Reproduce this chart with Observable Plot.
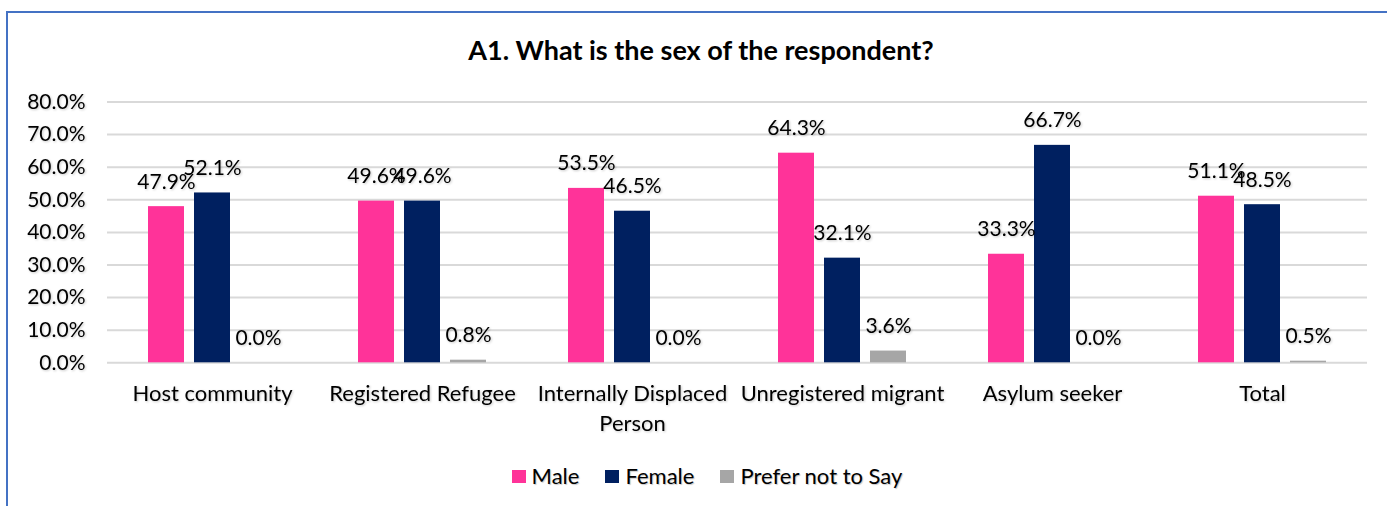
<!DOCTYPE html>
<html>
<head>
<meta charset="utf-8">
<script src="https://cdn.jsdelivr.net/npm/d3@7"></script>
<script src="https://cdn.jsdelivr.net/npm/@observablehq/plot@0.6"></script>
<style>
  html, body { margin: 0; padding: 0; background: #fff; width: 1387px; height: 506px; overflow: hidden; }
  body { position: relative; font-family: Lato, "Open Sans", sans-serif; }
  #frame { position: absolute; left: 6px; top: 11px; width: 2000px; height: 1000px;
           border-left: 2px solid #4472C4; border-top: 2px solid #4472C4; }
  #title { position: absolute; left: 0; width: 1402px; top: 34px; text-align: center;
           font-weight: bold; font-size: 27px; color: #000; line-height: 32px; }
  #chart { position: absolute; left: 0; top: 0; }
  #chart svg text { filter: drop-shadow(1px 1px 1px rgba(0,0,0,0.22)); }
  #legend { position: absolute; left: 0; width: 1414px; top: 461px; display: flex; justify-content: center;
            font-size: 22px; line-height: 30px; color: #000; }
  .item { display: flex; align-items: center; margin: 0 13px; text-shadow: 1px 1px 1px rgba(0,0,0,0.22); }
  .sw { width: 14px; height: 13px; margin-right: 6px; }
</style>
</head>
<body>
<div id="frame"></div>
<div id="title">A1. What is the sex of the respondent?</div>
<div id="chart"></div>
<div id="legend"></div>
<script>
const categories = ["Host community", "Registered Refugee", "Internally Displaced Person", "Unregistered migrant", "Asylum seeker", "Total"];
const categoryLabels = ["Host community", "Registered Refugee", "Internally Displaced\nPerson", "Unregistered migrant", "Asylum seeker", "Total"];
const series = ["Male", "Female", "Prefer not to Say"];
const male = [47.9, 49.6, 53.5, 64.3, 33.3, 51.1];
const female = [52.1, 49.6, 46.5, 32.1, 66.7, 48.5];
const preferNot = [0.0, 0.8, 0.0, 3.6, 0.0, 0.5];
const colors = ["#FF3399", "#002060", "#A6A6A6"];
const yTicks = [0, 10, 20, 30, 40, 50, 60, 70, 80];

const seriesValues = [male, female, preferNot];
const rows = categories.flatMap((c, i) => series.map((s, j) => ({category: c, series: s, value: seriesValues[j][i]})));
const pct = d => d.toFixed(1) + "%";

const plot = Plot.plot({
  width: 1387,
  height: 450,
  marginLeft: 107,
  marginRight: 20,
  marginTop: 101.5,
  marginBottom: 87.7,
  style: {fontFamily: "Lato, 'Open Sans', sans-serif", fontSize: "21px", color: "#000", background: "transparent", overflow: "visible"},
  fx: {domain: categories, padding: 0, axis: null, label: null},
  x: {domain: series, paddingInner: 10 / 46, paddingOuter: 0.8913, axis: null},
  y: {domain: [0, 80], axis: null},
  color: {domain: series, range: colors},
  marks: [
    Plot.gridY(yTicks, {stroke: "#D9D9D9", strokeOpacity: 1, strokeWidth: 2}),
    Plot.axisY(yTicks, {tickSize: 0, tickPadding: 22, tickFormat: pct, label: null, fill: "#000", fontSize: 21}),
    Plot.axisFx({anchor: "bottom", tickSize: 0, tickPadding: 16, lineHeight: 1.4, label: null, fill: "#000", fontSize: 22,
                 tickFormat: d => categoryLabels[categories.indexOf(d)]}),
    Plot.barY(rows, {fx: "category", x: "series", y: "value", fill: "series"}),
    Plot.text(rows, {fx: "category", x: "series", y: "value", text: d => pct(d.value),
                     dy: -18, lineAnchor: "bottom", fill: "#000", fontSize: 21})
  ]
});
document.getElementById("chart").appendChild(plot);

const legend = document.getElementById("legend");
series.forEach((s, i) => {
  const item = document.createElement("div");
  item.className = "item";
  const sw = document.createElement("span");
  sw.className = "sw";
  sw.style.background = colors[i];
  const t = document.createElement("span");
  t.textContent = s;
  item.appendChild(sw);
  item.appendChild(t);
  legend.appendChild(item);
});
</script>
</body>
</html>
